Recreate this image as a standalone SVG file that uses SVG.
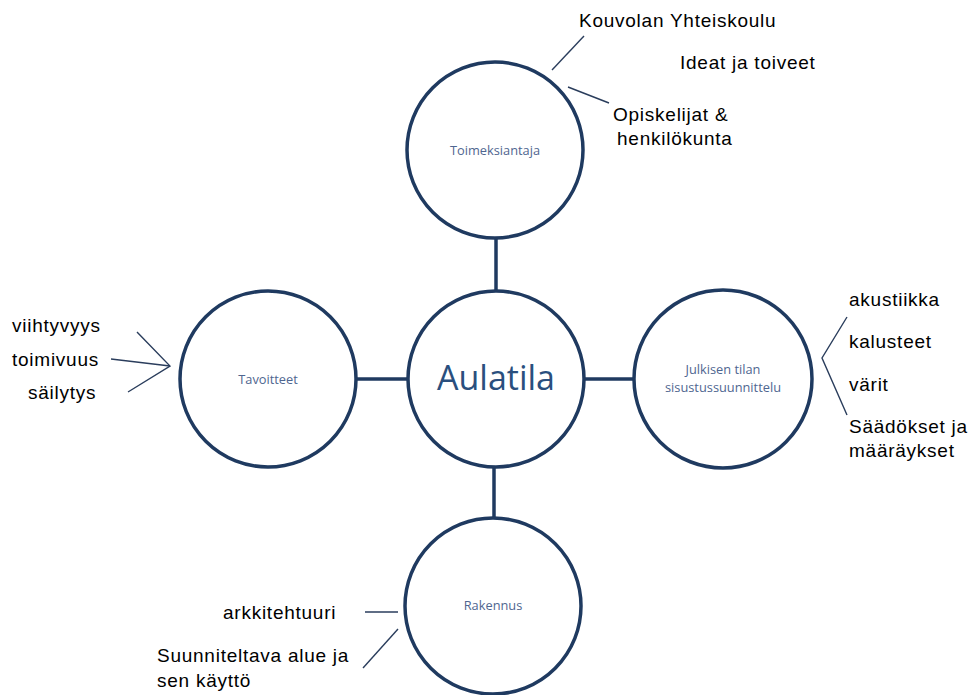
<svg xmlns="http://www.w3.org/2000/svg" width="972" height="695" viewBox="0 0 972 695">
<style>
.c{fill:#fff;stroke:#1f3a60;stroke-width:3.5}
.k{stroke:#1f3a60;stroke-width:3.5;fill:none}
.a{stroke:#2a3d5c;stroke-width:1.4;fill:none}
.s{font-family:"Open Sans","Liberation Sans",sans-serif;font-size:12.8px;fill:#4f6690;text-anchor:middle}
.b{font-family:"Open Sans","Liberation Sans",sans-serif;font-size:34px;fill:#2a4f7e;text-anchor:middle}
.t{font-family:"Liberation Sans",Arial,sans-serif;font-size:19px;letter-spacing:0.75px;fill:#000}
</style>
<rect width="972" height="695" fill="#fff"/>
<g id="connectors">
<line class="k" x1="496" y1="238" x2="496" y2="291"/>
<line class="k" x1="356" y1="379" x2="408" y2="379"/>
<line class="k" x1="584" y1="379" x2="634" y2="379"/>
<line class="k" x1="494" y1="467" x2="494" y2="518"/>
<line class="a" x1="584" y1="36" x2="552" y2="70"/>
<line class="a" x1="568" y1="87" x2="609" y2="103"/>
<polyline class="a" points="137,332 170,366 128,392"/>
<line class="a" x1="111" y1="359" x2="170" y2="366"/>
<polyline class="a" points="847,317 822,358 847,415"/>
<line class="a" x1="365" y1="612" x2="398" y2="612"/>
<line class="a" x1="363" y1="668" x2="398" y2="629"/>
</g>
<g id="toimeksiantaja"><circle class="c" cx="495" cy="150" r="88"/><text class="s" x="495" y="155">Toimeksiantaja</text></g>
<g id="aulatila"><circle class="c" cx="496" cy="379" r="88"/><text class="b" x="496" y="390">Aulatila</text></g>
<g id="tavoitteet"><circle class="c" cx="268" cy="379" r="88"/><text class="s" x="268" y="384">Tavoitteet</text></g>
<g id="julkisen"><circle class="c" cx="723" cy="379" r="89"/><text class="s" x="723" y="374">Julkisen tilan</text><text class="s" x="723" y="392">sisustussuunnittelu</text></g>
<g id="rakennus"><circle class="c" cx="493" cy="606" r="88"/><text class="s" x="493" y="610">Rakennus</text></g>
<g id="labels">
<text class="t" x="579" y="27">Kouvolan Yhteiskoulu</text>
<text class="t" x="680" y="69">Ideat ja toiveet</text>
<text class="t" x="613" y="121">Opiskelijat &amp;</text>
<text class="t" x="617" y="145">henkilökunta</text>
<text class="t" x="12" y="332">viihtyvyys</text>
<text class="t" x="12" y="366">toimivuus</text>
<text class="t" x="28" y="399">säilytys</text>
<text class="t" x="849" y="306">akustiikka</text>
<text class="t" x="849" y="348">kalusteet</text>
<text class="t" x="849" y="391">värit</text>
<text class="t" x="849" y="433">Säädökset ja</text>
<text class="t" x="849" y="457">määräykset</text>
<text class="t" x="223" y="619">arkkitehtuuri</text>
<text class="t" x="157" y="662">Suunniteltava alue ja</text>
<text class="t" x="157" y="687">sen käyttö</text>
</g>
</svg>
